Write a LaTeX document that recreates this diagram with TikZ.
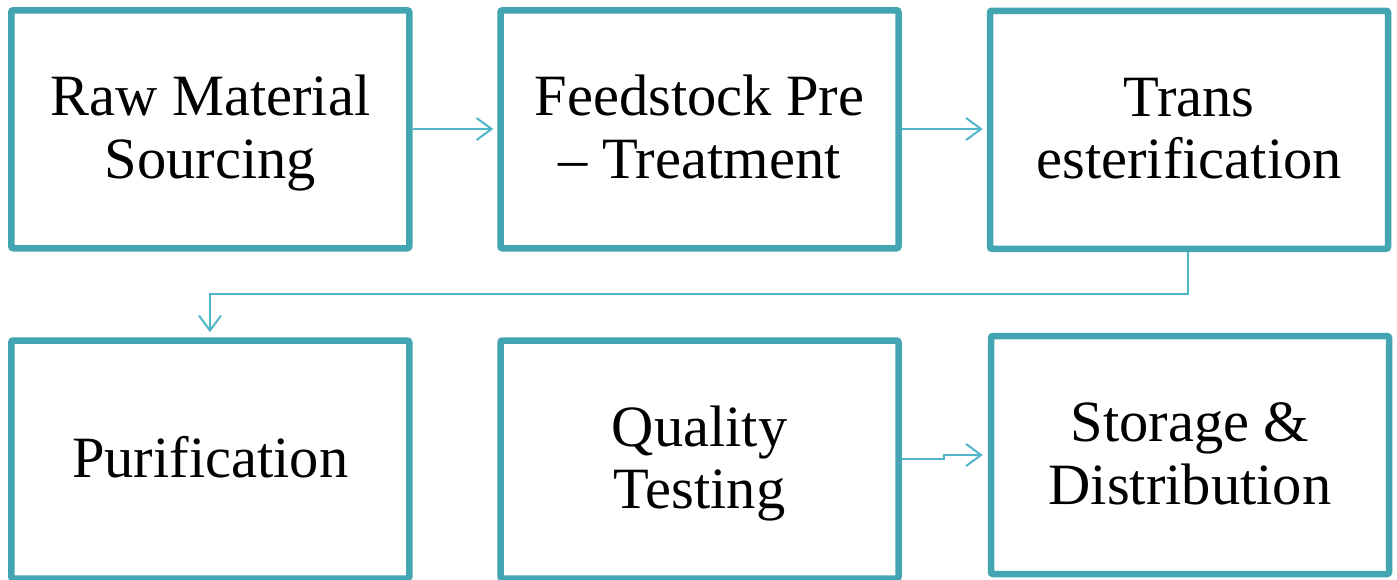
\documentclass[tikz,border=0pt]{standalone}
\usepackage{fontspec}
\setmainfont{Liberation Serif}
\usetikzlibrary{arrows.meta,shadows}
\definecolor{boxcol}{RGB}{67,165,178}
\definecolor{linkcol}{RGB}{78,182,200}
\newcommand{\tstrut}{\rule[-12.8pt]{0pt}{61.5pt}}
\tikzset{
  stepbox/.style={draw=boxcol, line width=6.5pt, fill=white, rounded corners=2pt,
    minimum width=398pt, minimum height=238pt, inner sep=0pt, align=center,
    font=\fontsize{58.5}{61}\selectfont,
    drop shadow={shadow xshift=2pt, shadow yshift=-2.5pt, opacity=0.10, fill=black}},
  link/.style={draw=linkcol, line width=2pt,
    -{Straight Barb[length=15pt,width=22pt,line width=2pt]}}
}
\begin{document}
\begin{tikzpicture}[x=1pt,y=-1pt]
\useasboundingbox (0,0) rectangle (1397,579);
\node[stepbox] (raw)  at (210.25,129.25) {\tstrut Raw Material\\\tstrut Sourcing};
\node[stepbox] (pre)  at (699.5,129.25)  {\tstrut Feedstock Pre\\\tstrut – Treatment};
\node[stepbox] (tran) at (1189,129.75)   {\tstrut Trans\\\tstrut esterification};
\node[stepbox] (pur)  at (210.25,459.5)  {\tstrut Purification};
\node[stepbox] (qual) at (699.5,459.5)   {\tstrut Quality\\\tstrut Testing};
\node[stepbox] (stor) at (1190,455)      {\tstrut Storage \&\\\tstrut Distribution};
\draw[link, shorten >=4pt] (raw.east |- 0,129) -- (pre.west |- 0,129);
\draw[link, shorten >=4pt] (pre.east |- 0,129) -- (tran.west |- 0,129);
\coordinate (t1) at (1188,294);
\coordinate (t2) at (210,294);
\draw[link, shorten >=5pt] (tran.south -| t1) -- (t1) -- (t2) -- (pur.north -| t2);
\coordinate (s1) at (944,459);
\coordinate (s2) at (944,455);
\draw[link, shorten >=5pt] (qual.east |- s1) -- (s1) -- (s2) -- (stor.west |- s2);
\end{tikzpicture}
\end{document}
